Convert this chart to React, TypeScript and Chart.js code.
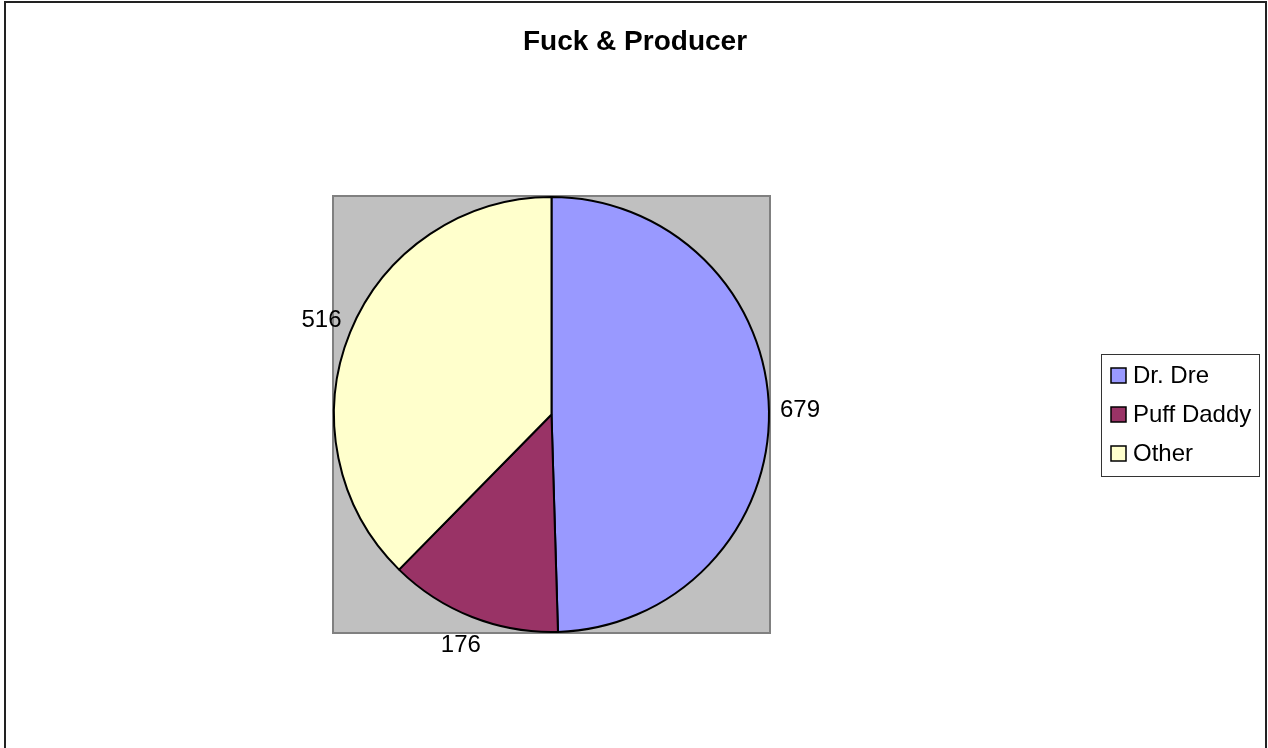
import React, { useEffect, useRef } from "react";
import { Chart, registerables } from "chart.js";

Chart.register(...registerables);

const TITLE = "Fuck & Producer";
const CATEGORIES = ["Dr. Dre", "Puff Daddy", "Other"];
const VALUES = [679, 176, 516];
const COLORS = ["#9999FF", "#993366", "#FFFFCC"];

const W = 1268;
const H = 748;
const FONT = '"Liberation Sans", Arial, sans-serif';

const decorPlugin = {
  id: "decor",
  beforeDatasetsDraw(chart: any) {
    const { ctx, chartArea } = chart;
    ctx.save();
    ctx.fillStyle = "#C0C0C0";
    ctx.fillRect(chartArea.left, chartArea.top, chartArea.right - chartArea.left, chartArea.bottom - chartArea.top);
    ctx.strokeStyle = "#808080";
    ctx.lineWidth = 2;
    ctx.strokeRect(chartArea.left, chartArea.top, chartArea.right - chartArea.left, chartArea.bottom - chartArea.top);
    ctx.restore();
  },
  afterDatasetsDraw(chart: any) {
    const { ctx } = chart;
    const meta = chart.getDatasetMeta(0);
    ctx.save();
    ctx.fillStyle = "#000";
    ctx.font = `24px ${FONT}`;
    ctx.textAlign = "center";
    ctx.textBaseline = "middle";
    meta.data.forEach((arc: any, i: number) => {
      const p = arc.getProps(["x", "y", "startAngle", "endAngle", "outerRadius"], true);
      const mid = (p.startAngle + p.endAngle) / 2;
      const r = p.outerRadius + 31;
      const x = p.x + Math.cos(mid) * r;
      const y = p.y + Math.sin(mid) * r;
      ctx.fillText(String(VALUES[i]), x, y);
    });
    ctx.restore();
  },
  afterDraw(chart: any) {
    const { ctx } = chart;
    ctx.save();
    // outer border
    ctx.strokeStyle = "#222";
    ctx.lineWidth = 2;
    ctx.beginPath();
    ctx.moveTo(5, H + 5);
    ctx.lineTo(5, 2);
    ctx.lineTo(1266, 2);
    ctx.lineTo(1266, H + 5);
    ctx.stroke();
    // title
    ctx.fillStyle = "#000";
    ctx.font = `bold 28px ${FONT}`;
    ctx.textAlign = "center";
    ctx.textBaseline = "alphabetic";
    ctx.fillText(TITLE, 635, 50);
    // legend
    const lx = 1101, ly = 354, lw = 158, lh = 122;
    ctx.fillStyle = "#fff";
    ctx.fillRect(lx, ly, lw, lh);
    ctx.strokeStyle = "#333";
    ctx.lineWidth = 1;
    ctx.strokeRect(lx + 0.5, ly + 0.5, lw, lh);
    ctx.font = `24px ${FONT}`;
    ctx.textAlign = "left";
    ctx.textBaseline = "middle";
    CATEGORIES.forEach((c, i) => {
      const cy = 376 + i * 39;
      ctx.fillStyle = COLORS[i];
      ctx.fillRect(1111, cy - 8, 15, 15);
      ctx.strokeStyle = "#000";
      ctx.lineWidth = 1.5;
      ctx.strokeRect(1111, cy - 8, 15, 15);
      ctx.fillStyle = "#000";
      ctx.fillText(c, 1133, cy);
    });
    ctx.restore();
  },
};

export default function App() {
  const ref = useRef<HTMLCanvasElement | null>(null);
  useEffect(() => {
    if (!ref.current) return;
    const chart = new Chart(ref.current, {
      type: "pie",
      data: {
        labels: CATEGORIES,
        datasets: [
          {
            data: VALUES,
            backgroundColor: COLORS,
            borderColor: "#000",
            borderWidth: 2,
          },
        ],
      },
      options: {
        responsive: false,
        animation: false,
        layout: { padding: { left: 333, right: W - 770, top: 196, bottom: H - 633 } },
        plugins: {
          legend: { display: false },
          title: { display: false },
          tooltip: { enabled: false },
        },
      },
      plugins: [decorPlugin],
    });
    return () => chart.destroy();
  }, []);
  return (
    <div style={{ position: "fixed", left: 0, top: 0, width: W, height: H, background: "#fff" }}>
      <canvas ref={ref} width={W} height={H} style={{ display: "block", width: W, height: H }} />
    </div>
  );
}
